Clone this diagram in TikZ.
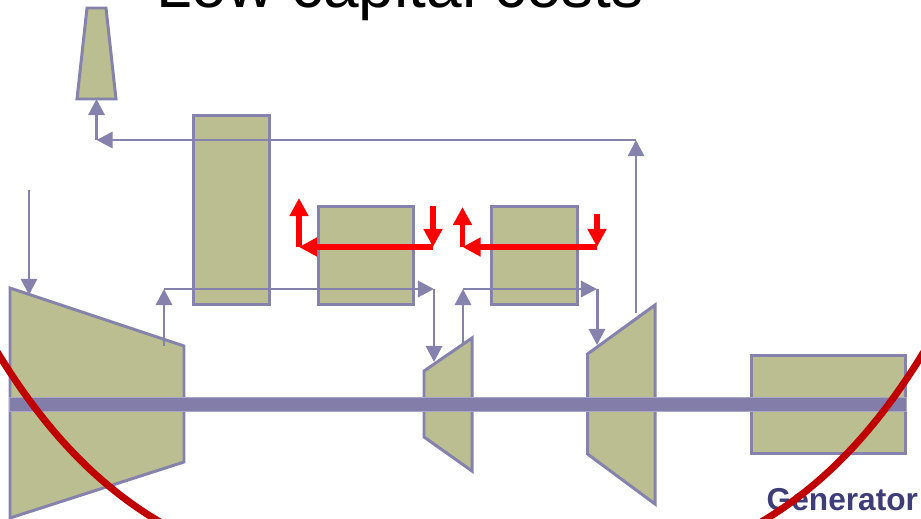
\documentclass[tikz,border=0pt]{standalone}
\usepackage{fontspec}
\setmainfont{Liberation Sans}
\usetikzlibrary{arrows.meta}
\definecolor{unitfill}{HTML}{BBBE90}
\definecolor{unitline}{HTML}{8682AE}
\definecolor{shaftedge}{HTML}{A9A6C9}
\definecolor{labelblue}{HTML}{3E3D78}
\definecolor{crossred}{HTML}{C00000}
\tikzset{
  unit/.style={draw=unitline,fill=unitfill,line width=0.85pt,line join=miter},
  unitbox/.style={unit,inner sep=0pt,outer sep=0pt},
  flow/.style={draw=unitline,line width=0.85pt,-{Triangle[length=0.16cm,width=0.16cm]}},
  flowthin/.style={flow,line width=0.65pt},
  hotflow/.style={draw=red,line width=1.7pt,-{Triangle[length=0.18cm,width=0.18cm]}},
  cross/.style={draw=crossred,line width=2pt}
}

\begin{document}
\begin{tikzpicture}[x=0.01cm,y=-0.01cm]
    \useasboundingbox (0,0) rectangle (921,518);
    \clip (0,0) rectangle (921,518);

    \node[anchor=base west,inner sep=0pt,font=\fontsize{18.2}{20}\selectfont] (title) at (155.5,7.5) {Low capital costs};

    % stack
    \draw[unit] (87,8) -- (106,8) -- (116,99) -- (77,99) -- cycle;

    % turbines
    \draw[unit] (10,288) -- (184,346) -- (184,462) -- (10,518) -- cycle;
    \draw[unit] (424,371) -- (472,338) -- (472,471) -- (424,437) -- cycle;
    \draw[unit] (587.5,354) -- (655,305) -- (655,504) -- (587.5,454) -- cycle;

    % boxes
    \node[unitbox,minimum width=0.76cm,minimum height=1.89cm] (tallbox) at (231.5,210) {};
    \node[unitbox,minimum width=0.95cm,minimum height=0.98cm] (heatleft) at (366,255.5) {};
    \node[unitbox,minimum width=0.86cm,minimum height=0.98cm] (heatright) at (534.5,255.5) {};
    \node[unitbox,minimum width=1.54cm,minimum height=0.98cm] (generator) at (828.5,404.5) {};

    % shaft
    \node[draw=shaftedge,fill=unitline!97!black,line width=0.3pt,inner sep=0pt,minimum width=8.96cm,minimum height=0.135cm] (shaft) at (458,404.5) {};

    \coordinate (stackin) at (96.5,99);
    \coordinate (stackcorner) at (96.5,140);
    \coordinate (exhaustcorner) at (636,140);
    \coordinate (exhaustout) at (636,313);
    \coordinate (steamin) at (29,190);
    \coordinate (steamtip) at (29,295);
    \coordinate (hpout) at (164,346);
    \coordinate (hpcorner) at (164,289);
    \coordinate (ipcorner) at (434,289);
    \coordinate (iptip) at (434,362);
    \coordinate (ipout) at (463,343);
    \coordinate (ipcornerb) at (463,289);
    \coordinate (lpcorner) at (597,289);
    \coordinate (lptip) at (597,345);

    \draw[flowthin] (exhaustout) -- (exhaustcorner);
    \draw[flow] (exhaustcorner) -- (stackcorner);
    \draw[flow] (stackcorner) -- (stackin);
    \draw[flowthin] (steamin) -- (steamtip);
    \draw[flow] (hpout) -- (hpcorner);
    \draw[flow] (hpcorner) -- (ipcorner);
    \draw[flow] (ipcorner) -- (iptip);
    \draw[flow] (ipout) -- (ipcornerb);
    \draw[flow] (ipcornerb) -- (lpcorner);
    \draw[flow] (lpcorner) -- (lptip);

    % red arrows
    \coordinate (redastart) at (433,206);
    \coordinate (redacorner) at (433,247);
    \coordinate (redaleft) at (299,247);
    \coordinate (redatip) at (299,198);
    \coordinate (redbstart) at (597,214);
    \coordinate (redbcorner) at (597,247);
    \coordinate (redbleft) at (462.5,247);
    \coordinate (redbtip) at (462.5,207);

    \draw[hotflow] (redastart) -- (redacorner);
    \draw[hotflow] (redacorner) -- (redaleft);
    \draw[hotflow] (redaleft) -- (redatip);
    \draw[hotflow] (redbstart) -- (redbcorner);
    \draw[hotflow] (redbcorner) -- (redbleft);
    \draw[hotflow] (redbleft) -- (redbtip);

    \node[anchor=base west,inner sep=0pt,text=labelblue,font=\fontsize{9}{11}\selectfont\bfseries] (genlabel) at (766,510) {Generator};

    % crossing curves
    \draw[cross] (-10,340) .. controls (40,425) and (95,485) .. (165,525);
    \draw[cross] (931,340) .. controls (881,425) and (826,485) .. (756,525);
\end{tikzpicture}
\end{document}
